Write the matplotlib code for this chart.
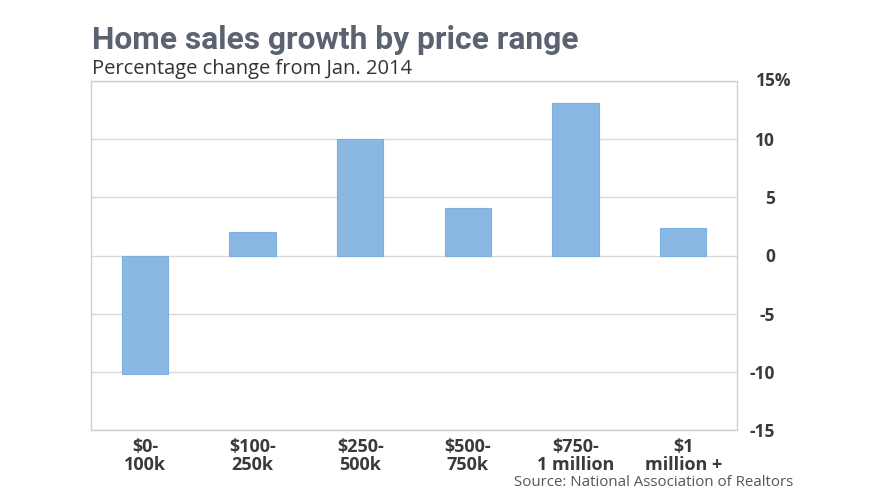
import matplotlib
matplotlib.use("Agg")
import matplotlib.pyplot as plt
from matplotlib.transforms import offset_copy

# data
categories = ["$0-\n100k", "$100-\n250k", "$250-\n500k", "$500-\n750k", "$750-\n1 million", "$1\nmillion +"]
growth = [-10.2, 2.0, 10.0, 4.1, 13.1, 2.4]
yticks = [-15, -10, -5, 0, 5, 10, 15]
ytick_labels = ["-15", "-10", "-5", "0", "5", "10", ""]
top_label = "15%"

fig = plt.figure(figsize=(8.8, 4.95), dpi=100)
ax = fig.add_axes([91 / 880, 1 - 430 / 495, (737 - 91) / 880, (430 - 81) / 495])

x = list(range(len(categories)))
ax.bar(x, growth, width=0.43, color="#8ab8e3", edgecolor="#7cafe0", linewidth=0.8, zorder=3)

ax.set_xlim(-0.5, len(categories) - 0.5)
ax.set_ylim(-15, 15)
ax.set_yticks(yticks)
ax.set_yticklabels(ytick_labels)
ax.yaxis.tick_right()
ax.grid(axis="y", color="#d9d9d9", linewidth=1, zorder=0)
for s in ax.spines.values():
    s.set_color("#d0d0d0")
    s.set_linewidth(1)

# labels end ~38 px right of the frame
pad_pt = 38 * 72 / 100
ax.tick_params(axis="y", length=0, pad=pad_pt, labelsize=12.5, labelcolor="#3a3a3a")
for t in ax.get_yticklabels():
    t.set_fontweight("bold")
    t.set_fontfamily("Open Sans")
    t.set_horizontalalignment("right")

# top label: "15" lines up with the others, "%" hangs past them
top_tr = offset_copy(ax.get_yaxis_transform(), fig=fig, x=pad_pt - 19 * 72 / 100, y=0, units="points")
ax.text(1, yticks[-1], top_label, transform=top_tr, fontsize=12.5, fontweight="bold",
        family="Open Sans", color="#3a3a3a", ha="left", va="center")

ax.set_xticks(x)
ax.set_xticklabels(categories)
ax.tick_params(axis="x", length=0, pad=6, labelsize=13, labelcolor="#3a3a3a")
for t in ax.get_xticklabels():
    t.set_fontweight("bold")
    t.set_fontfamily("Open Sans")
    t.set_linespacing(0.98)

fig.text(92 / 880, 1 - 40 / 495, "Home sales growth by price range", fontsize=22.9,
         fontweight="bold", family="Roboto", color="#5b6372", va="center")
fig.text(92 / 880, 1 - 69 / 495, "Percentage change from Jan. 2014", fontsize=14.5,
         family="Open Sans", color="#333333", va="center")
fig.text(793 / 880, 1 - 483 / 495, "Source: National Association of Realtors", fontsize=10.8,
         family="Open Sans", color="#555555", ha="right", va="center")

fig.savefig("out.png", dpi=100)
